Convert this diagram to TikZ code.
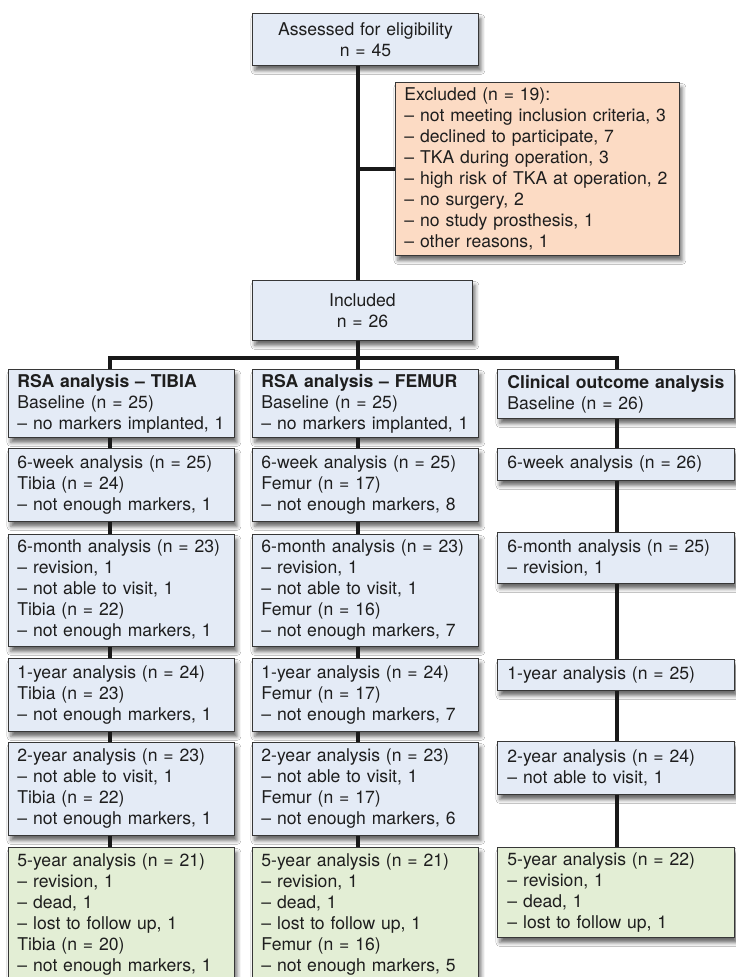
\documentclass[tikz,border=0pt]{standalone}
\usepackage{fontspec}
\setmainfont{TeX Gyre Heros}
\usetikzlibrary{shadows.blur}
\definecolor{bluefill}{RGB}{228,235,246}
\definecolor{orangefill}{RGB}{252,219,196}
\definecolor{greenfill}{RGB}{227,238,213}
\definecolor{edgegray}{RGB}{55,55,55}
\definecolor{textgray}{RGB}{30,30,30}
\tikzset{
  box/.style={draw=edgegray, line width=0.9pt, inner xsep=9pt, inner ysep=0pt,
    align=left, anchor=north west, text=textgray, font=\fontsize{17.6}{21}\selectfont,
    blur shadow={shadow xshift=2.5pt, shadow yshift=-5pt, shadow blur radius=4pt, shadow opacity=60}},
  bluebox/.style={box, fill=bluefill},
  orangebox/.style={box, fill=orangefill},
  greenbox/.style={box, fill=greenfill},
  conn/.style={line width=3.2pt, draw=black!90}
}
\begin{document}
\begin{tikzpicture}[x=1pt, y=-1pt]
\useasboundingbox (0,0) rectangle (736,977);
\fill[white] (0,0) rectangle (736,977);

% top part
\node[bluebox, align=center, text width=208pt, minimum height=52pt] (top) at (252,13) {Assessed for eligibility\\n = 45};
\node[orangebox, text width=266pt, minimum height=173pt] (excl) at (395,82) {Excluded (n = 19):\\– not meeting inclusion criteria, 3\\– declined to participate, 7\\– TKA during operation, 3\\– high risk of TKA at operation, 2\\– no surgery, 2\\– no study prosthesis, 1\\– other reasons, 1};
\node[bluebox, align=center, text width=202pt, minimum height=60pt] (incl) at (252,280) {Included\\n = 26};

% column 1: tibia
\node[bluebox, text width=208pt, minimum height=68pt] (a0) at (8,369) {\textbf{RSA analysis – TIBIA}\\Baseline (n = 25)\\– no markers implanted, 1};
\node[bluebox, text width=208pt, minimum height=73pt] (a1) at (8,448) {6-week analysis (n = 25)\\Tibia (n = 24)\\– not enough markers, 1};
\node[bluebox, text width=208pt, minimum height=112pt] (a2) at (8,534) {6-month analysis (n = 23)\\– revision, 1\\– not able to visit, 1\\Tibia (n = 22)\\– not enough markers, 1};
\node[bluebox, text width=208pt, minimum height=73pt] (a3) at (8,658) {1-year analysis (n = 24)\\Tibia (n = 23)\\– not enough markers, 1};
\node[bluebox, text width=208pt, minimum height=93pt] (a4) at (8,742) {2-year analysis (n = 23)\\– not able to visit, 1\\Tibia (n = 22)\\– not enough markers, 1};
\node[greenbox, text width=208pt, minimum height=135pt] (a5) at (8,847) {5-year analysis (n = 21)\\– revision, 1\\– dead, 1\\– lost to follow up, 1\\Tibia (n = 20)\\– not enough markers, 1};

% column 2: femur
\node[bluebox, text width=208pt, minimum height=68pt] (b0) at (252,369) {\textbf{RSA analysis – FEMUR}\\Baseline (n = 25)\\– no markers implanted, 1};
\node[bluebox, text width=208pt, minimum height=73pt] (b1) at (252,448) {6-week analysis (n = 25)\\Femur (n = 17)\\– not enough markers, 8};
\node[bluebox, text width=208pt, minimum height=112pt] (b2) at (252,534) {6-month analysis (n = 23)\\– revision, 1\\– not able to visit, 1\\Femur (n = 16)\\– not enough markers, 7};
\node[bluebox, text width=208pt, minimum height=73pt] (b3) at (252,658) {1-year analysis (n = 24)\\Femur (n = 17)\\– not enough markers, 7};
\node[bluebox, text width=208pt, minimum height=93pt] (b4) at (252,742) {2-year analysis (n = 23)\\– not able to visit, 1\\Femur (n = 17)\\– not enough markers, 6};
\node[greenbox, text width=208pt, minimum height=135pt] (b5) at (252,847) {5-year analysis (n = 21)\\– revision, 1\\– dead, 1\\– lost to follow up, 1\\Femur (n = 16)\\– not enough markers, 5};

% column 3: clinical
\node[bluebox, inner xsep=10pt, text width=217pt, minimum height=49pt] (c0) at (497,369) {\mbox{\textbf{Clinical outcome analysis}}\\Baseline (n = 26)};
\node[bluebox, inner xsep=10pt, text width=217pt, minimum height=32pt] (c1) at (497,448) {6-week analysis (n = 26)};
\node[bluebox, inner xsep=10pt, text width=217pt, minimum height=51pt] (c2) at (497,532) {6-month analysis (n = 25)\\– revision, 1};
\node[bluebox, inner xsep=10pt, text width=217pt, minimum height=31pt] (c3) at (497,659) {1-year analysis (n = 25)};
\node[bluebox, inner xsep=10pt, text width=217pt, minimum height=53pt] (c4) at (497,741) {2-year analysis (n = 24)\\– not able to visit, 1};
\node[greenbox, inner xsep=10pt, text width=217pt, minimum height=90pt] (c5) at (497,847) {5-year analysis (n = 22)\\– revision, 1\\– dead, 1\\– lost to follow up, 1};

% connector x positions
\coordinate (xa) at (110,0);
\coordinate (xb) at (358,0);
\coordinate (xc) at (617,0);
\coordinate (bar) at (0,358);

% connectors
\draw[conn] (top.south -| xb) -- (incl.north -| xb);
\draw[conn] (excl.west -| xb) -- (excl.west);
\draw[conn] (incl.south -| xb) -- (b0.north -| xb);
\draw[conn] (a0.north -| xa) -- (xa |- bar) -- (xc |- bar) -- (c0.north -| xc);
\foreach \u/\v in {a0/a1,a1/a2,a2/a3,a3/a4,a4/a5}{
  \draw[conn] (\u.south -| xa) -- (\v.north -| xa);
}
\foreach \u/\v in {b0/b1,b1/b2,b2/b3,b3/b4,b4/b5}{
  \draw[conn] (\u.south -| xb) -- (\v.north -| xb);
}
\foreach \u/\v in {c0/c1,c1/c2,c2/c3,c3/c4,c4/c5}{
  \draw[conn] (\u.south -| xc) -- (\v.north -| xc);
}
\end{tikzpicture}
\end{document}
